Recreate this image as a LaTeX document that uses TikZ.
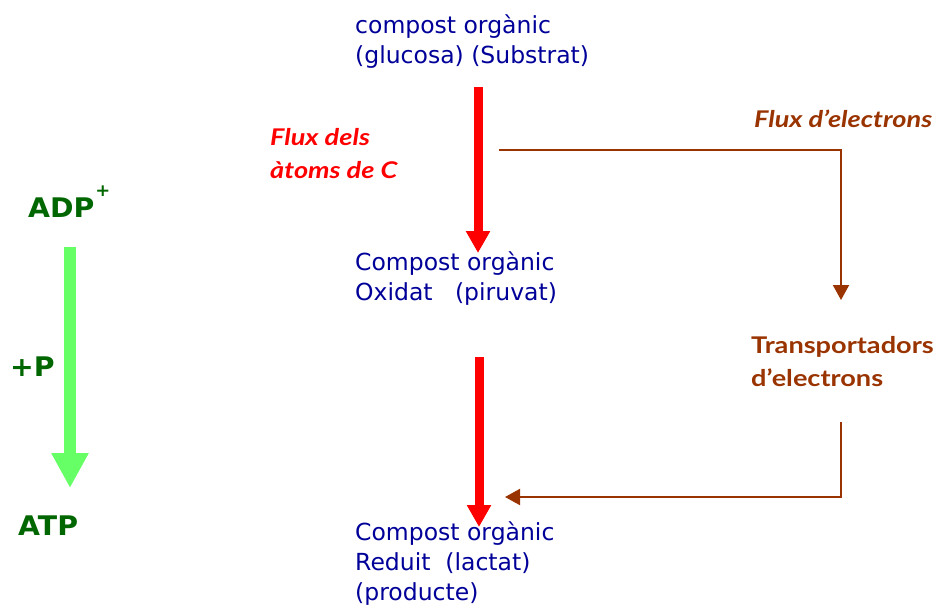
\documentclass[tikz,border=0pt]{standalone}
\usepackage{fontspec}
\setmainfont{DejaVu Sans}
\newfontfamily\comicfont[FakeStretch=1.18]{Lato}
\newfontfamily\greenfont[FakeStretch=1.05]{DejaVu Sans}
\usetikzlibrary{arrows.meta}
\definecolor{navy}{RGB}{0,0,153}
\definecolor{brick}{RGB}{153,51,0}
\definecolor{lgreen}{RGB}{102,255,102}
\definecolor{dgreen}{RGB}{0,102,0}
\tikzset{
  x=1pt, y=-1pt,
  bluetxt/.style={anchor=base west, inner sep=0pt, text=navy, align=left,
    font=\fontsize{23.5}{30}\selectfont},
  comictxt/.style={anchor=base west, inner sep=0pt, align=left,
    font=\comicfont\bfseries\itshape\fontsize{23}{33}\selectfont},
  trtxt/.style={anchor=base west, inner sep=0pt, align=left, text=brick,
    font=\comicfont\bfseries\fontsize{23}{33}\selectfont},
  greentxt/.style={anchor=base west, inner sep=0pt, text=dgreen,
    font=\greenfont\bfseries\fontsize{27}{30}\selectfont},
  redarrow/.style={draw=red, line width=9pt,
    -{Triangle[width=23pt,length=22pt]}},
  greenarrow/.style={draw=lgreen, line width=12pt,
    -{Triangle[width=35pt,length=35pt]}},
  brownarrow/.style={draw=brick, line width=2pt,
    -{Triangle[width=16pt,length=15pt]}},
}
\begin{document}
\begin{tikzpicture}
\useasboundingbox (0,0) rectangle (939,605);
% blue texts (anchor = baseline of last line)
\node[bluetxt] (sub) at (355,63) {compost orgànic\\(glucosa) (Substrat)};
\node[bluetxt] (oxi) at (355,300) {Compost orgànic\\Oxidat\ \ \ (piruvat)};
\node[bluetxt] (red) at (355,600) {Compost orgànic\\Reduit\ \ (lactat)\\(producte)};
% labels
\node[comictxt, text=red] (fluxc) at (270,178) {Flux dels\\àtoms de C};
\node[comictxt, text=brick] (fluxe) at (754,127) {Flux d’electrons};
\node[trtxt] (trans) at (751,386) {Transportadors\\d’electrons};
% green
\node[greentxt] (adp) at (28,217) {ADP\kern1pt\raisebox{0.75em}{\fontsize{17}{17}\selectfont +}};
\node[greentxt] (plusp) at (10,376) {+P};
\node[greentxt] (atp) at (18,535) {ATP};
% arrow coordinates
\coordinate (r1s) at (478,87);
\coordinate (r1e) at (478,253);
\coordinate (r2s) at (479,357);
\coordinate (r2e) at (479,527);
\coordinate (g1s) at (70,247);
\coordinate (g1e) at (70,488);
\coordinate (e1s) at (499,150);
\coordinate (e1c) at (841,150);
\coordinate (e1e) at (841,300);
\coordinate (e2s) at (841,422);
\coordinate (e2c) at (841,497);
\coordinate (e2e) at (505,497);
\draw[redarrow] (r1s) -- (r1e);
\draw[redarrow] (r2s) -- (r2e);
\draw[greenarrow] (g1s) -- (g1e);
\draw[brownarrow] (e1s) -- (e1c) -- (e1e);
\draw[brownarrow] (e2s) -- (e2c) -- (e2e);
\end{tikzpicture}
\end{document}
